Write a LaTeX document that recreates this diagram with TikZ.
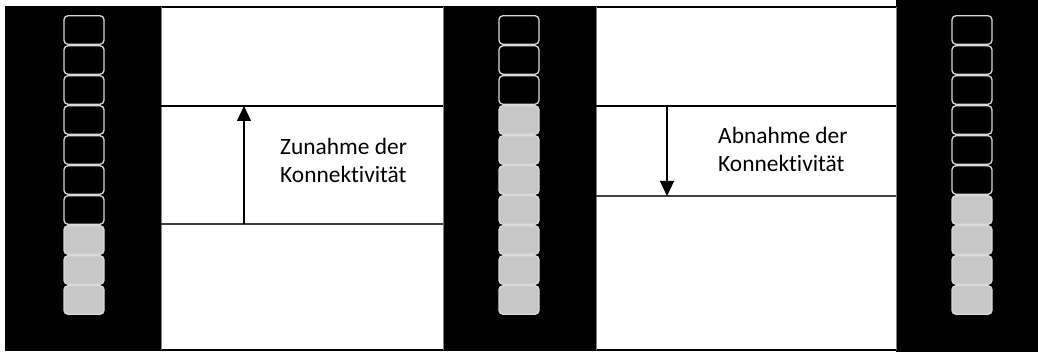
\documentclass[tikz,border=0pt]{standalone}
\usepackage{fontspec}
\setmainfont{Carlito}[Ligatures={NoCommon}]
\usetikzlibrary{arrows.meta}
\begin{document}
\begin{tikzpicture}[x=1pt,y=-1pt,
  cell/.style={shape=rectangle, rounded corners=4pt, draw=white!85!black, line width=1.3pt,
               minimum width=40pt, minimum height=28.6pt, inner sep=0pt},
  emptycell/.style={cell, fill=black},
  fullcell/.style={cell, fill=black!22},
  levelline/.style={line width=1.6pt},
  lowline/.style={line width=1.6pt, draw=black!75},
  label/.style={font=\fontsize{23.4}{28}\selectfont, align=left, inner sep=0pt, anchor=base west},
  trend/.style={line width=1.2pt, -{Triangle[width=14pt,length=15pt]}}]
\useasboundingbox (0,0) rectangle (1038,352);
\fill[white] (0,0) rectangle (1038,352);
% black bands holding the stacks
\fill[black] (6,7) rectangle (161,350);
\fill[black] (443,7) rectangle (596,350);
\fill[black] (896,0) rectangle (1038,352);
% outer frame and panel edges
\draw[line width=1.2pt] (6,7) rectangle (1038,350);
\draw[black!50, line width=0.8pt] (161,7) -- (161,350) (443,7) -- (443,350)
  (596,7) -- (596,350) (896,7) -- (896,350);
% stacks of cells: left, middle, right
\foreach \i in {0,...,9} {
  \pgfmathtruncatemacro{\yy}{30+30*\i}
  \ifnum\i<7 \node[emptycell] (L\i) at (84,\yy) {}; \else \node[fullcell] (L\i) at (84,\yy) {}; \fi
  \ifnum\i<3 \node[emptycell] (M\i) at (519,\yy) {}; \else \node[fullcell] (M\i) at (519,\yy) {}; \fi
  \ifnum\i<6 \node[emptycell] (R\i) at (972,\yy) {}; \else \node[fullcell] (R\i) at (972,\yy) {}; \fi
}
% level lines, left panel
\coordinate (lu) at (244,106);
\coordinate (ll) at (244,224);
\draw[levelline] (161,106) -- (lu) -- (443,106);
\draw[lowline] (161,224) -- (ll) -- (443,224);
% level lines, right panel
\coordinate (ru) at (667,106);
\coordinate (rl) at (667,196);
\draw[levelline] (596,106) -- (ru) -- (896,106);
\draw[lowline] (596,196) -- (rl) -- (896,196);
% trend arrows
\draw[trend] (ll) -- (lu);
\draw[trend] (ru) -- (rl);
% captions (anchored at the baseline of the last line)
\node[label] (up) at (280,183) {Zunahme der\\Konnektivität};
\node[label] (down) at (718,172) {Abnahme der\\Konnektivität};
\end{tikzpicture}
\end{document}
